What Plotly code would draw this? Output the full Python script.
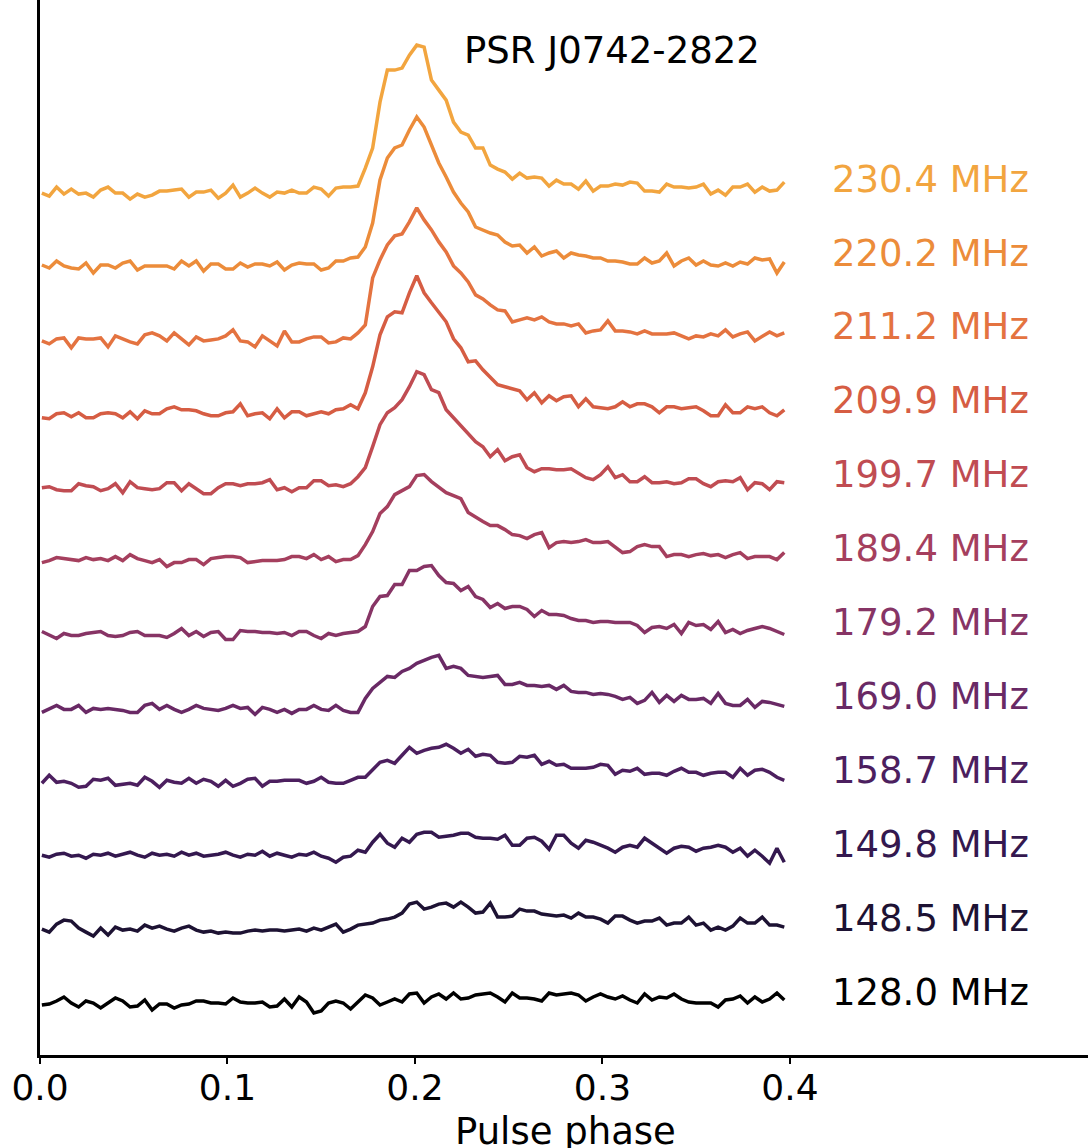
import numpy as np
import plotly.graph_objects as go

# Frequencies (MHz), bottom to top
freqs = ["128.0", "148.5", "149.8", "158.7", "169.0", "179.2",
         "189.4", "199.7", "209.9", "211.2", "220.2", "230.4"]

colors = ["#000000", "#1d1233", "#34184f", "#4c1f5f", "#692965", "#873465",
          "#a53f5e", "#c04c52", "#d65d43", "#e47340", "#ec8c3a", "#f2a53f"]

# Pulse phase grid (bin centres)
phase = np.linspace(0.001, 0.397, 102)

# Profiles (arbitrary flux units)
p128 = [-2,-1,2,6,0,-4,2,0,-5,0, 5,2,-4,-3,3,-7,-1,-1,-5,-2, -1,2,2,0,0,-1,5,1,0,0,
        1,-4,-3,4,-4,6,1,-10,-8,0, 2,0,-6,1,8,5,-2,1,4,1, 9,10,0,
        6,9,4,10,4,5,8,9,10,6, 1,10,5,5,4,2,10,8,9,10, 8,2,6,9,6,4,7,3,0,9,
        3,6,5,9,4,1,0,0,0,-4, 3,4,7,0,6,1,4,10,3]
p148 = [0,-3,5,9,8,1,-3,-7,1,-6,2,-1,0,-2,4,1,3,0,-2,1,3,-1,-3,-2,-4,-3,-4,-4,-2,-1,
        -2,-1,-1,-2,-1,0,-2,1,-1,
        2,5,-3,0,4,5,6,9,10,12,16,25,27,20,22,25,26,22,27,22,16,17,26,12,12,13,20,18,18,15,
        14,13,14,11,
        16,12,12,10,6,13,13,9,6,8,8,11,4,6,6,12,4,6,-1,2,-1,3,11,6,6,12,4,4,2]
p149 = [0,-2,1,2,-1,0,-3,1,0,2,-1,1,3,0,-2,2,0,1,-1,3,0,2,-1,0,1,3,0,-2,1,0,
        4,-1,2,0,-2,1,0,3,-1,
        -3,-7,-2,-1,5,3,13,21,12,8,17,13,21,23,23,18,19,20,22,22,18,17,17,16,20,10,10,17,18,14,
        6,20,20,
        12,7,15,13,10,7,3,8,10,8,17,12,7,2,7,9,8,4,7,8,10,8,3,7,-1,5,-1,-8,7,-7]
p158 = [-2,6,-1,0,-2,-6,-5,2,1,3,-4,-3,-2,-4,4,0,-6,1,-1,-2,3,-2,2,0,-5,1,-5,-2,2,3,
        -5,0,0,1,1,1,-2,0,4,
        -1,-2,-2,1,4,4,11,19,21,18,26,34,28,31,33,34,37,33,28,32,25,27,26,19,18,19,25,24,26,17,
        20,16,17,
        13,13,13,14,17,16,7,11,10,13,7,8,8,6,10,13,9,9,6,8,9,9,4,13,6,11,12,9,4,1]
p169 = [-5,-1,2,-2,-2,2,-5,-1,-2,-1,-2,-3,-5,-5,2,4,-2,2,-2,-5,-2,2,-1,-2,-3,-1,2,-1,0,-7,
        0,-2,-5,-2,-6,-2,-2,2,-2,
        -3,2,-3,-5,-5,9,19,25,31,30,36,39,44,47,50,52,39,41,39,32,31,30,31,32,23,23,25,22,22,21,
        22,18,22,16,
        15,15,13,14,13,11,8,10,4,7,15,5,12,6,12,8,8,9,4,14,4,2,2,8,0,6,5,3,1]
p179 = [2,-2,-5,0,-2,-2,0,1,2,-2,-3,-2,1,2,-2,-2,-2,-4,0,5,-2,2,-3,1,2,-6,-6,3,2,2,
        1,1,0,1,-2,2,2,-2,-5,
        0,-2,0,1,2,7,27,37,38,49,49,63,63,67,68,58,51,50,43,47,37,34,26,30,25,27,27,24,17,23,
        19,19,18,15,
        13,13,11,12,12,11,11,11,8,1,6,7,5,9,0,11,8,9,4,12,1,4,0,3,5,7,5,2,-1]
p189 = [-3,-1,2,1,0,-1,2,0,1,-1,3,-1,5,1,-1,-3,0,-7,-3,-3,0,0,-5,1,2,3,3,2,-3,-2,
        -1,-1,-1,0,3,3,1,5,0,3,
        -2,0,0,4,15,28,46,53,65,69,73,84,85,78,72,67,64,61,47,42,38,34,34,30,25,24,21,25,27,12,
        17,18,
        17,18,20,17,17,18,13,7,8,13,15,13,13,3,5,5,3,5,6,4,5,2,5,7,1,3,3,3,0,7]
p199 = [-2,-1,-4,-5,-5,2,0,-1,-5,-3,2,-7,4,-2,-3,-4,-3,3,3,-5,2,-3,-8,-8,-2,2,2,0,2,2,
        3,6,-4,-2,-6,-2,-2,5,5,
        0,1,-1,2,9,18,39,61,73,78,86,99,114,111,96,93,76,68,59,51,44,39,29,36,25,29,31,18,14,17,
        17,16,16,17,
        12,8,6,11,19,8,11,4,4,9,3,3,4,2,3,7,7,2,-1,4,5,4,8,-4,3,2,-4,4,3]
p209 = [-6,-7,-2,-1,-5,-1,-6,-6,-2,-1,-2,-6,0,-7,1,-2,-2,3,5,2,2,1,-2,-4,-4,-1,0,8,-4,-2,
        -1,-7,3,-6,0,0,-4,-2,0,-2,2,
        3,7,3,19,45,77,95,100,99,119,136,119,109,99,90,73,64,50,51,42,35,27,25,23,21,12,19,9,16,11,
        15,
        16,5,13,5,4,3,5,10,5,8,8,5,-1,5,5,3,4,5,1,-4,-4,7,-1,-1,5,3,5,-1,-4,2]
p211 = [-3,-6,-1,0,-10,0,-1,-1,0,-9,2,-1,-4,-6,3,5,2,-3,5,-1,-7,1,-3,-2,-1,2,8,-3,-4,-9,
        2,-3,-8,7,-4,-4,-1,1,1,-5,
        -4,0,-1,5,13,60,78,93,102,104,116,130,118,108,96,86,72,65,56,43,39,33,28,27,16,18,20,18,21,16,
        14,14,12,
        14,5,7,8,17,7,7,6,4,7,4,4,4,5,2,-1,2,1,4,2,8,1,4,6,-3,1,6,2,5]
p220 = [-1,-4,3,-2,-4,-5,1,-9,-1,-1,-4,1,3,-6,-2,-2,-2,-2,-5,3,-2,3,-7,0,0,-5,-5,1,-3,0,
        0,-2,2,-6,-1,1,0,0,-6,-4,
        3,3,6,7,17,41,84,106,116,119,134,147,137,119,101,87,72,61,52,37,34,31,29,22,18,19,11,17,8,11,
        13,6,
        11,9,8,6,6,3,3,2,0,0,6,1,3,11,-2,3,6,-1,3,-1,-2,1,-2,2,0,6,4,5,-9,2]
p230 = [-3,-6,3,-4,1,-4,-3,-7,0,3,-3,-3,-9,-4,-7,-5,-1,-1,0,1,-7,-2,-2,0,-8,-3,5,-7,-3,2,
        -3,-7,-2,-3,0,-3,-3,3,1,-6,2,3,3,4,
        22,42,88,120,120,122,135,145,143,110,100,90,68,58,55,42,42,25,21,18,11,17,12,13,12,4,10,6,
        6,1,9,-1,4,4,6,5,8,7,-1,-1,-2,6,3,3,2,3,6,-4,0,-5,3,3,6,-2,3,-1,0,8]

profiles = [p128, p148, p149, p158, p169, p179, p189, p199, p209, p211, p220, p230]
offset_step = 73.9
label_x = 0.4213
label_dy = 11

fig = go.Figure()
for k, (f, prof, c) in enumerate(zip(freqs, profiles, colors)):
    off = k * offset_step
    fig.add_trace(go.Scatter(x=phase, y=np.array(prof) + off, mode="lines",
                             line=dict(color=c, width=3.5), showlegend=False,
                             hoverinfo="skip"))
    fig.add_annotation(x=label_x, y=off + label_dy, text=f"{f} MHz",
                       xanchor="left", yanchor="middle", showarrow=False,
                       font=dict(family="DejaVu Sans", size=37, color=c))

fig.add_annotation(x=0.225, y=953, text="PSR J0742-2822", xanchor="left",
                   yanchor="middle", showarrow=False,
                   font=dict(family="DejaVu Sans", size=37, color="black"))
fig.add_annotation(x=0.2805, xref="x", y=-0.05, yref="paper", text="Pulse phase",
                   xanchor="center", yanchor="top", showarrow=False,
                   font=dict(family="DejaVu Sans", size=37, color="black"))

fig.update_layout(
    width=1088, height=1148,
    margin=dict(l=40, r=0, t=0, b=93),
    paper_bgcolor="white", plot_bgcolor="white",
    font=dict(family="DejaVu Sans", color="black"),
    xaxis=dict(range=[0, 0.559], tickvals=[0, 0.1, 0.2, 0.3, 0.4],
               ticktext=["0.0", "0.1", "0.2", "0.3", "0.4"],
               ticks="outside", ticklen=6, tickwidth=1.5, tickcolor="black",
               ticklabelstandoff=-7,
               tickfont=dict(family="DejaVu Sans", size=36, color="black"),
               showline=True, linewidth=2.5, linecolor="black",
               showgrid=False, zeroline=False),
    yaxis=dict(range=[-52, 1003], showticklabels=False, ticks="",
               showline=True, linewidth=2.5, linecolor="black",
               showgrid=False, zeroline=False),
)

fig.write_html("out.html")
